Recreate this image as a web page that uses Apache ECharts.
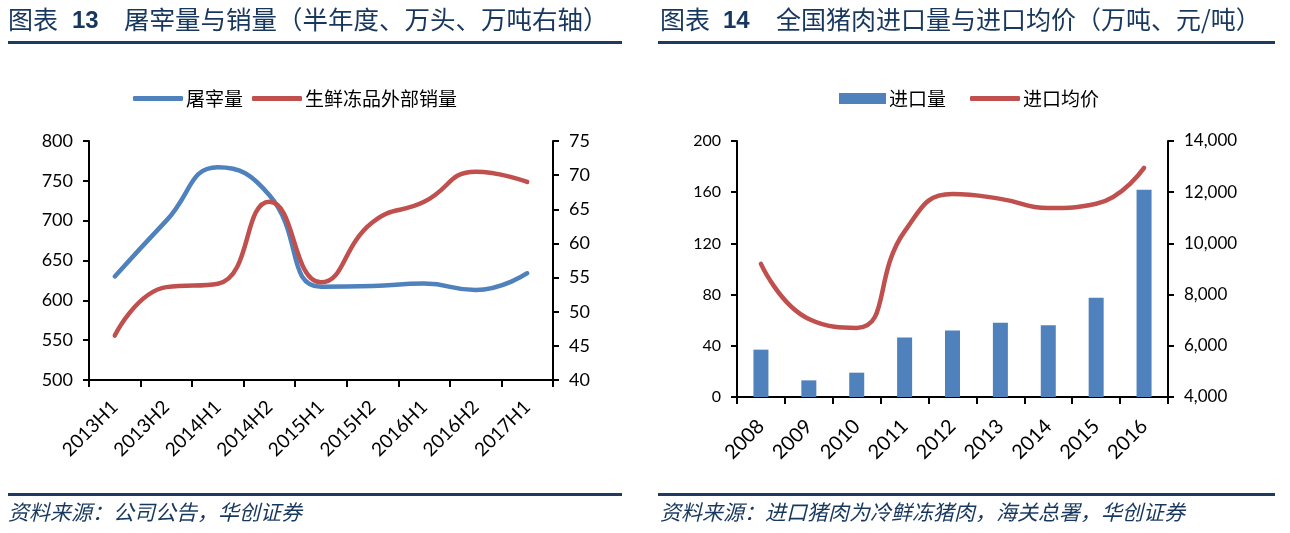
<!DOCTYPE html>
<html><head><meta charset="utf-8">
<script src="https://cdn.jsdelivr.net/npm/echarts@6/dist/echarts.min.js"></script>
<style>html,body{margin:0;padding:0;background:#fff}#c{width:1290px;height:533px}</style>
</head><body><div id="c"></div>
<script>
// ---- Chart 13 data ----
const halfYears = ['2013H1','2013H2','2014H1','2014H2','2015H1','2015H2','2016H1','2016H2','2017H1'];
const slaughter = [630, 700, 767, 732, 617, 618, 621, 613, 634];          // 万头 (left axis)
const salesVolume = [46.5, 53.6, 54.1, 66.1, 54.3, 63.1, 66.1, 70.5, 69.0]; // 万吨 (right axis)
const leftAxis13 = [500, 800, 50];
const rightAxis13 = [40, 75, 5];
// ---- Chart 14 data ----
const years = ['2008','2009','2010','2011','2012','2013','2014','2015','2016'];
const importVolume = [37, 13, 19, 46.5, 52, 58, 56, 77.5, 162];               // 万吨
const importPrice = [9200, 7050, 6700, 10470, 11930, 11740, 11380, 11550, 12950]; // 元/吨
const leftAxis14 = [0, 200, 40];
const rightAxis14 = [4000, 14000, 2000];

const BLUE = '#4F81BD', RED = '#C0504D', NAVY = '#1F3A5F', TXT = '#17375E';
const numFont = 'Lato, "Noto Sans", sans-serif';
const cjk = '"Noto Sans CJK SC", sans-serif';

function valAxis(gi, range, pos, size, fmt) {
  return {
    type: 'value', gridIndex: gi, position: pos,
    min: range[0], max: range[1], interval: range[2],
    splitLine: {show: false},
    axisLine: {show: true, lineStyle: {color: '#000', width: 2}},
    axisTick: {show: true, length: 6, lineStyle: {color: '#000', width: 2}},
    axisLabel: {color: '#000', fontSize: size, fontFamily: numFont, margin: 16,
      formatter: fmt || (v => String(v))}
  };
}
function catAxis(gi, data, size, margin) {
  return {
    type: 'category', gridIndex: gi, data: data, boundaryGap: true,
    axisLine: {lineStyle: {color: '#000', width: 2}},
    axisTick: {show: true, length: 7, alignWithLabel: false, lineStyle: {color: '#000', width: 2}},
    axisLabel: {color: '#000', fontSize: size, fontFamily: numFont, rotate: 45, margin: margin, interval: 0}
  };
}
const thousands = v => v.toLocaleString('en-US');

const chart = echarts.init(document.getElementById('c'), null, {renderer: 'canvas'});
chart.setOption({
  animation: false,
  backgroundColor: '#fff',
  grid: [
    {left: 89, top: 141, width: 464, height: 239},
    {left: 737, top: 141, width: 431, height: 256}
  ],
  xAxis: [catAxis(0, halfYears, 19, 24), catAxis(1, years, 20, 26)],
  yAxis: [
    valAxis(0, leftAxis13, 'left', 18),
    valAxis(0, rightAxis13, 'right', 18),
    valAxis(1, leftAxis14, 'left', 16),
    valAxis(1, rightAxis14, 'right', 17, thousands)
  ],
  legend: [
    {left: 128, top: 84, itemWidth: 50, itemHeight: 5, itemGap: 9,
     textStyle: {fontSize: 19, fontFamily: cjk, color: '#000', padding: [0, 0, 0, -2]},
     data: [{name: '屠宰量', icon: 'roundRect'}, {name: '生鲜冻品外部销量', icon: 'roundRect'}]},
    {left: 834, top: 84, itemWidth: 47, itemHeight: 11, itemGap: 22,
     textStyle: {fontSize: 19, fontFamily: cjk, color: '#000', padding: [0, 0, 0, -2]},
     data: [{name: '进口量', icon: 'rect'}]},
    {left: 965, top: 84, itemWidth: 50, itemHeight: 5, itemGap: 22,
     textStyle: {fontSize: 19, fontFamily: cjk, color: '#000', padding: [0, 0, 0, -2]},
     data: [{name: '进口均价', icon: 'roundRect'}]}
  ],
  series: [
    {name: '屠宰量', type: 'line', xAxisIndex: 0, yAxisIndex: 0, data: slaughter,
     smooth: 0.5, symbol: 'none', lineStyle: {color: BLUE, width: 4.5, cap: 'round'}, itemStyle: {color: BLUE}},
    {name: '生鲜冻品外部销量', type: 'line', xAxisIndex: 0, yAxisIndex: 1, data: salesVolume,
     smooth: 0.5, symbol: 'none', lineStyle: {color: RED, width: 4.5, cap: 'round'}, itemStyle: {color: RED}},
    {name: '进口量', type: 'bar', xAxisIndex: 1, yAxisIndex: 2, data: importVolume,
     barWidth: 15, itemStyle: {color: BLUE}},
    {name: '进口均价', type: 'line', xAxisIndex: 1, yAxisIndex: 3, data: importPrice,
     smooth: 0.5, symbol: 'none', lineStyle: {color: RED, width: 4.5, cap: 'round'}, itemStyle: {color: RED}}
  ],
  graphic: [
    {type: 'text', left: 8, top: 7, style: {text: '图表', fontSize: 25, fontFamily: cjk, fill: TXT}},
    {type: 'text', left: 72, top: 9, style: {text: '13', fontSize: 24, fontWeight: 'bold', fontFamily: '"Liberation Sans", Arial, sans-serif', fill: TXT}},
    {type: 'text', left: 124, top: 7, style: {text: '屠宰量与销量（半年度、万头、万吨右轴）', fontSize: 25.5, fontFamily: cjk, fill: TXT}},
    {type: 'rect', shape: {x: 8, y: 41, width: 614, height: 3}, style: {fill: NAVY}},
    {type: 'text', left: 660, top: 7, style: {text: '图表', fontSize: 25, fontFamily: cjk, fill: TXT}},
    {type: 'text', left: 723, top: 9, style: {text: '14', fontSize: 24, fontWeight: 'bold', fontFamily: '"Liberation Sans", Arial, sans-serif', fill: TXT}},
    {type: 'text', left: 776, top: 7, style: {text: '全国猪肉进口量与进口均价（万吨、元/吨）', fontSize: 25, fontFamily: cjk, fill: TXT}},
    {type: 'rect', shape: {x: 658, y: 41, width: 617, height: 3}, style: {fill: NAVY}},
    {type: 'rect', shape: {x: 8, y: 493, width: 614, height: 3}, style: {fill: NAVY}},
    {type: 'rect', shape: {x: 658, y: 493, width: 617, height: 3}, style: {fill: NAVY}},
    {type: 'text', left: 8, top: 502, style: {text: '资料来源：公司公告，华创证券', fontSize: 21, fontStyle: 'italic', fontFamily: cjk, fill: TXT}},
    {type: 'text', left: 660, top: 502, style: {text: '资料来源：进口猪肉为冷鲜冻猪肉，海关总署，华创证券', fontSize: 21, fontStyle: 'italic', fontFamily: cjk, fill: TXT}}
  ]
});
</script>
</body></html>
